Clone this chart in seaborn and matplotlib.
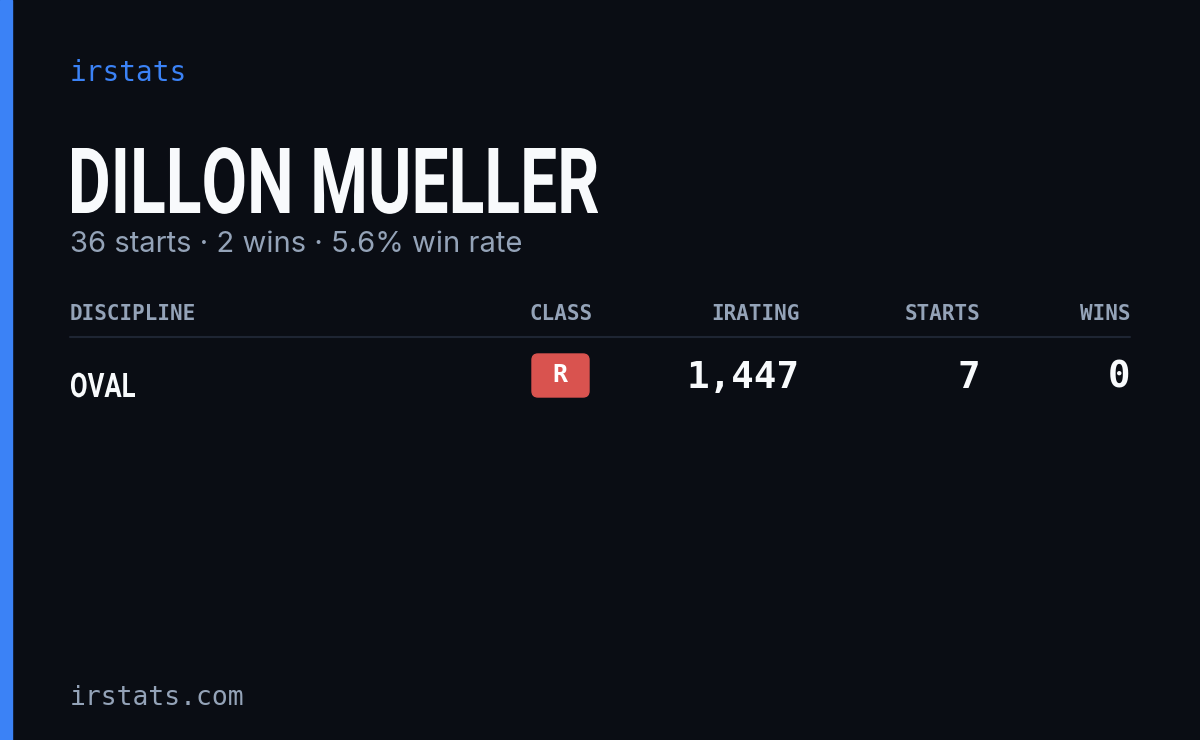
import matplotlib
matplotlib.use("Agg")
import matplotlib.pyplot as plt
import seaborn as sns
from matplotlib.patches import Rectangle, FancyBboxPatch, PathPatch
from matplotlib.textpath import TextPath
from matplotlib.font_manager import FontProperties
from matplotlib.transforms import Affine2D

sns.set_theme(style="white")
plt.rcParams['font.family'] = ['DejaVu Sans']

driver = "DILLON MUELLER"
total_starts = 36
total_wins = 2
win_rate = 5.6
headers = ["DISCIPLINE", "CLASS", "IRATING", "STARTS", "WINS"]
disciplines = ["OVAL"]
classes = ["R"]
iratings = [1447]
starts = [7]
wins = [0]

W, H = 1200, 740
fig = plt.figure(figsize=(12, 7.4), dpi=100)
fig.patch.set_facecolor("#0a0d14")
ax = fig.add_axes([0, 0, 1, 1])
ax.set_xlim(0, W); ax.set_ylim(H, 0); ax.axis("off")
ax.set_facecolor("#0a0d14")

def squashed(text, x, baseline, cap_h, width, color):
    fp = FontProperties(family="Roboto", weight="bold")
    tp = TextPath((0, 0), text, size=1, prop=fp)
    cap = TextPath((0, 0), "H", size=1, prop=fp).get_extents().height
    ext = tp.get_extents()
    k = cap_h / cap
    sx = width / ext.width
    tr = Affine2D().translate(-ext.x0, 0).scale(sx, -k).translate(x, baseline)
    ax.add_patch(PathPatch(tr.transform_path(tp), color=color, lw=0))

ax.add_patch(Rectangle((0, 0), 12, H, color="#3b82f6"))
mono = "DejaVu Sans Mono"
ax.text(70, 73, "irstats", color="#3b82f6", fontsize=20, family=mono, va="center")
squashed(driver, 72, 213, 65, 526, "#f8fafc")
ax.text(70, 245, f"{total_starts} starts · {total_wins} wins · {win_rate}% win rate",
        color="#94a3b8", fontsize=21, va="center", family=["Inter", "DejaVu Sans"])

hx = [70, 593, 800, 980, 1130]
ha = ["left", "right", "right", "right", "right"]
for t, x, a in zip(headers, hx, ha):
    ax.text(x, 314, t, color="#94a3b8", fontsize=15, family=mono, ha=a, va="center", weight="bold")
ax.plot([70, 1130], [337, 337], color="#1e2533", lw=1.5)

for i, d in enumerate(disciplines):
    y = 382 + i * 60
    squashed(d, 71, y + 15, 24, 64, "#f8fafc")
    ax.add_patch(FancyBboxPatch((532, y - 28), 57, 43, boxstyle="round,pad=0,rounding_size=6",
                                color="#d9534f"))
    ax.text(560, y - 7, classes[i], color="white", fontsize=18, weight="bold", family=mono,
            ha="center", va="center")
    ax.text(800, y - 4, f"{iratings[i]:,}", color="#f8fafc", fontsize=27, family=mono, ha="right", va="center", weight="bold")
    ax.text(980, y - 4, str(starts[i]), color="#f8fafc", fontsize=27, family=mono, ha="right", va="center", weight="bold")
    ax.text(1130, y - 4, str(wins[i]), color="#f8fafc", fontsize=27, family=mono, ha="right", va="center", weight="bold")

ax.text(70, 698, "irstats.com", color="#94a3b8", fontsize=19, family=mono, va="center")
fig.savefig("out.png", dpi=100, facecolor=fig.get_facecolor())
